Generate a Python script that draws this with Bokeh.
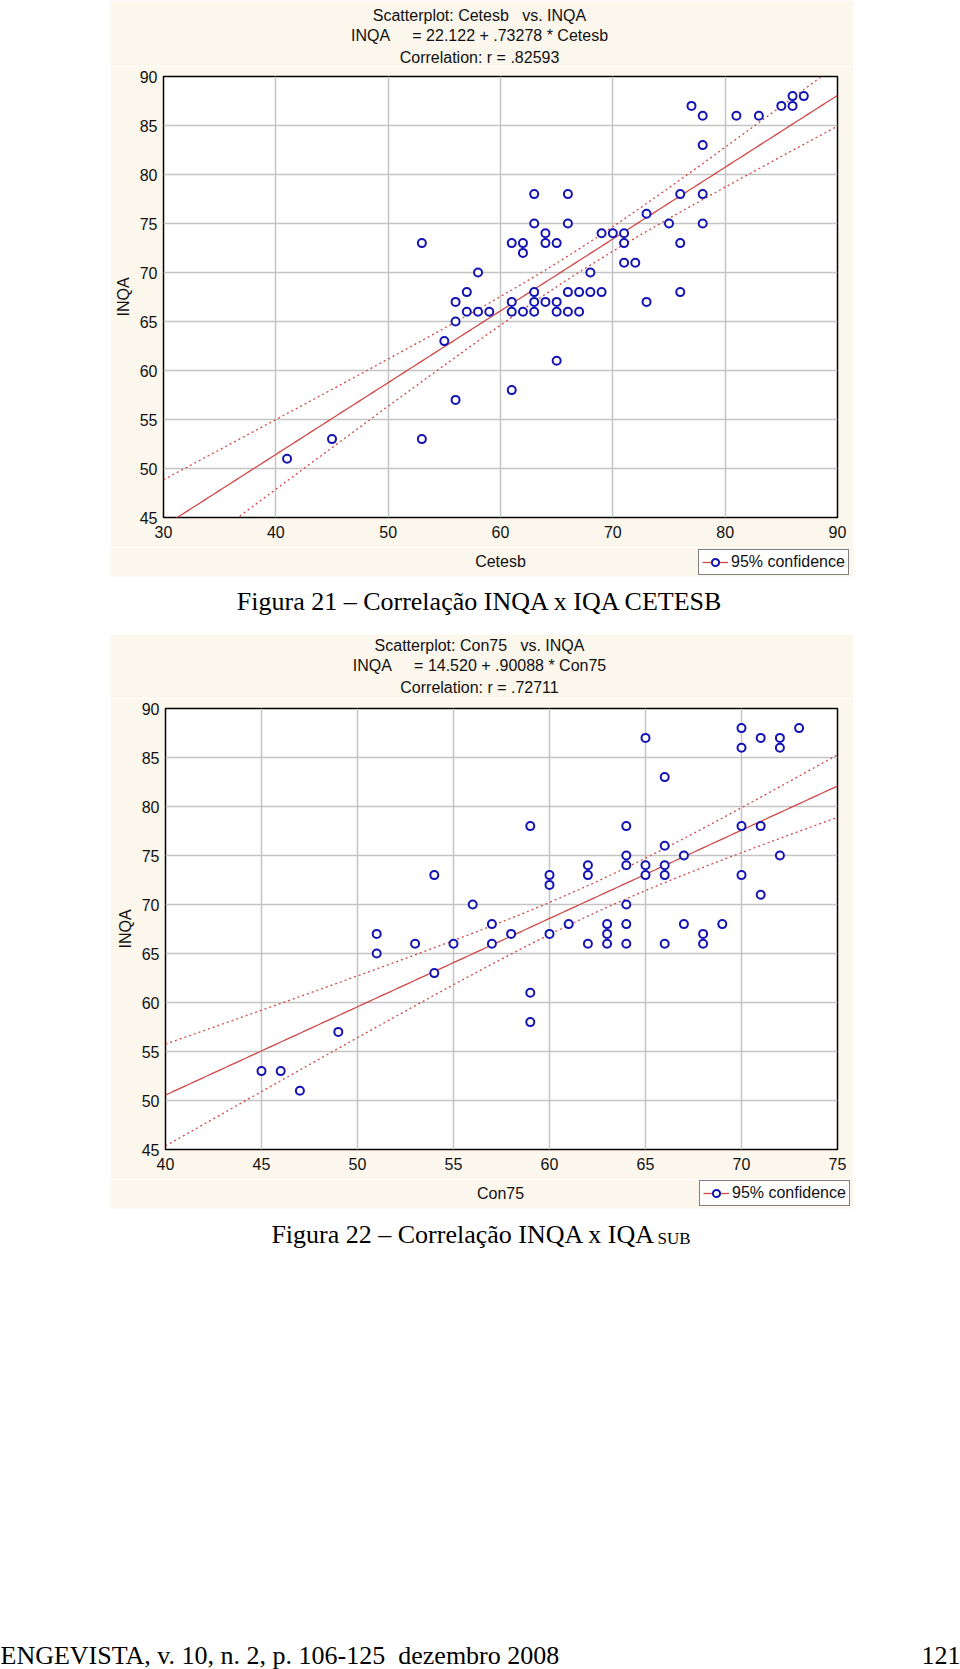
import numpy as np
from bokeh.plotting import figure
from bokeh.models import Range1d, Legend, LegendItem, FixedTicker, Spacer
from bokeh.layouts import column, row
from bokeh.core.properties import value
from bokeh.embed import file_html
from bokeh.resources import INLINE

# ---------------- data ----------------
cetesb = [41, 45, 53, 53, 55, 56, 56, 56, 57, 57, 58, 58, 59, 61, 61, 61, 61, 62, 62, 62,
          63, 63, 63, 63, 63, 64, 64, 64, 65, 65, 65, 65, 66, 66, 66, 66, 67, 67, 68, 68,
          69, 69, 70, 71, 71, 71, 72, 73, 73, 75, 76, 76, 76, 77, 78, 78, 78, 78, 81, 83,
          85, 86, 86, 87]
inqa_cetesb = [51, 53, 53, 73, 63, 57, 65, 67, 66, 68, 66, 70, 66, 58, 66, 67, 73, 66, 72, 73,
               66, 67, 68, 75, 78, 67, 73, 74, 61, 66, 67, 73, 66, 68, 75, 78, 66, 68, 68, 70,
               68, 74, 74, 71, 73, 74, 71, 67, 76, 75, 68, 73, 78, 87, 75, 78, 83, 86, 86, 86,
               87, 87, 88, 88]

con75 = [45, 46, 47, 49, 51, 51, 53, 54, 54, 55, 56, 57, 57, 58, 59, 59, 59, 60, 60, 60,
         61, 62, 62, 62, 63, 63, 63, 64, 64, 64, 64, 64, 64, 65, 65, 65, 66, 66, 66, 66,
         66, 67, 67, 68, 68, 69, 70, 70, 70, 70, 71, 71, 71, 72, 72, 72, 73]
inqa_con75 = [53, 53, 51, 57, 65, 67, 66, 63, 73, 66, 70, 66, 68, 67, 58, 61, 78, 67, 72, 73,
              68, 66, 73, 74, 66, 67, 68, 66, 68, 70, 74, 75, 78, 73, 74, 87, 66, 73, 74, 76,
              83, 68, 75, 66, 67, 68, 73, 78, 86, 88, 71, 78, 87, 75, 86, 87, 88]

# regression coefficients printed in the chart titles
fit1 = (22.122, 0.73278)
fit2 = (14.520, 0.90088)
r1 = ".82593"
r2 = ".72711"

x_ticks1 = [30, 40, 50, 60, 70, 80, 90]
x_ticks2 = [40, 45, 50, 55, 60, 65, 70, 75]
y_ticks = [45, 50, 55, 60, 65, 70, 75, 80, 85, 90]

T95 = 1.999  # Student t, 0.975 quantile, ~60 df

CREAM = "#FCF7EC"
BLUE = "#1414B4"
RED = "#D04848"
INK = "#111111"
SANS = "Liberation Sans"
SERIF = "Liberation Serif"
FS = "16px"
NB = "\u00a0"

# page geometry (px)
PW = 960
CX0, CX1 = 110, 853          # cream chart panels
PLOT_H = 481


def conf_band(xv, yv, a, b, grid):
    xv = np.asarray(xv, float)
    yv = np.asarray(yv, float)
    n = len(xv)
    s = np.sqrt(np.sum((yv - (a + b * xv)) ** 2) / (n - 2))
    xm = xv.mean()
    sxx = np.sum((xv - xm) ** 2)
    fitv = a + b * grid
    hw = T95 * s * np.sqrt(1.0 / n + (grid - xm) ** 2 / sxx)
    return fitv, fitv - hw, fitv + hw


def text_fig(h):
    p = figure(width=PW, height=h, x_range=Range1d(0, PW), y_range=Range1d(h, 0),
               x_axis_type=None, y_axis_type=None, toolbar_location=None, tools="",
               output_backend="svg", min_border=0)
    p.grid.visible = False
    p.outline_line_color = None
    p.background_fill_color = "white"
    p.border_fill_color = "white"
    return p


def cream(p, top, bottom):
    p.quad(left=[CX0], right=[CX1], top=[top], bottom=[bottom], fill_color=CREAM,
           line_color=None)


def sans(p, x, y, txt, align="center"):
    p.text(x=x, y=y, text=txt, text_font=value(SANS), text_font_size=FS,
           text_align=align, text_baseline="middle", text_color=INK)


def serif(p, x, y, txt, align, size="26px"):
    p.text(x=[x], y=[y], text=[txt], text_font=value(SERIF), text_font_size=size,
           text_align=align, text_baseline="alphabetic", text_color="black")


def titles(xname, fit, rtxt):
    return ["Scatterplot: %s%svs. INQA" % (xname, NB * 3),
            "INQA%s= %.3f + %s * %s" % (NB * 5, fit[0], ("%.5f" % fit[1])[1:], xname),
            "Correlation: r = %s" % rtxt]


def legend_in(p, x, y):
    lr = p.line([np.nan], [np.nan], line_color=RED, line_width=1.3)
    sr = p.scatter([np.nan], [np.nan], marker="circle", size=8, line_color=BLUE,
                   line_width=2, fill_color="white")
    leg = Legend(items=[LegendItem(label="95% confidence", renderers=[lr, sr])],
                 location=(x, y), border_line_color="black",
                 border_line_width=1, background_fill_color="white", background_fill_alpha=1,
                 label_text_font=SANS, label_text_font_size=FS, label_text_color=INK,
                 padding=3, margin=0, spacing=0, glyph_width=26, glyph_height=18,
                 label_standoff=3, label_height=18)
    p.add_layout(leg)


def plot(xs, ys, xticks, fit, L):
    x0, x1 = xticks[0], xticks[-1]
    p = figure(width=CX1 - CX0, height=PLOT_H, x_range=Range1d(x0, x1),
               y_range=Range1d(45, 90), output_backend="svg", toolbar_location=None,
               tools="", min_border_left=L, min_border_right=16, min_border_top=10,
               min_border_bottom=30, background_fill_color="white",
               border_fill_color=CREAM)
    p.outline_line_color = "black"
    p.outline_line_width = 1.5
    p.xaxis.ticker = FixedTicker(ticks=xticks)
    p.yaxis.ticker = FixedTicker(ticks=y_ticks)
    for ax in (p.xaxis[0], p.yaxis[0]):
        ax.axis_line_color = None
        ax.major_tick_line_color = None
        ax.minor_tick_line_color = None
        ax.major_tick_in = 0
        ax.major_tick_out = 0
        ax.major_label_text_font = SANS
        ax.major_label_text_font_size = FS
        ax.major_label_text_color = INK
    p.xaxis.major_label_standoff = 8
    p.yaxis.major_label_standoff = 6
    p.yaxis.axis_label = "INQA"
    p.yaxis.axis_label_text_font = SANS
    p.yaxis.axis_label_text_font_size = FS
    p.yaxis.axis_label_text_font_style = "normal"
    p.yaxis.axis_label_text_color = INK
    p.yaxis.axis_label_standoff = 5
    p.grid.grid_line_color = "#C4C4C4"
    p.grid.grid_line_width = 1.5

    grid = np.linspace(x0, x1, 241)
    fv, lo, hi = conf_band(xs, ys, fit[0], fit[1], grid)
    p.line(grid, fv, line_color=RED, line_width=1.3)
    p.line(grid, lo, line_color=RED, line_width=1.3, line_dash="2 3")
    p.line(grid, hi, line_color=RED, line_width=1.3, line_dash="2 3")
    p.scatter(xs, ys, marker="circle", size=8, line_color=BLUE, line_width=2,
              fill_color="white")
    return p


# --- top: header of chart 1 (page y 0-66)
top = text_fig(66)
cream(top, 0, 66)
sans(top, [479] * 3, [15, 35, 57], titles("Cetesb", fit1, r1))

p1 = plot(cetesb, inqa_cetesb, x_ticks1, fit1, 53)      # page y 66-547

# --- middle: strip of chart 1, caption 1, header of chart 2 (page y 547-698)
mid = text_fig(151)
cream(mid, 0, 29)
cream(mid, 87, 151)
sans(mid, [500], [14], ["Cetesb"])
legend_in(mid, 698, 123)
serif(mid, 480, 54, "Figura 21 \u2013 Correla\u00e7\u00e3o INQA x IQA CETESB", "center")
sans(mid, [479] * 3, [98, 118, 140], titles("Con75", fit2, r2))

p2 = plot(con75, inqa_con75, x_ticks2, fit2, 55)        # page y 698-1179

# --- bottom: strip of chart 2, caption 2, footer (page y 1179-1669)
bot = text_fig(490)
cream(bot, 0, 29)
sans(bot, [500], [14], ["Con75"])
legend_in(bot, 699, 463)
serif(bot, 655, 55, "Figura 22 \u2013 Correla\u00e7\u00e3o INQA x IQA", "right")
serif(bot, 657, 59, "SUB", "left", "17px")
serif(bot, 0, 476, "ENGEVISTA, v. 10, n. 2, p. 106-125" + NB * 2 + "dezembro 2008", "left")
serif(bot, 960, 476, "121", "right")

page = column(top,
              row(Spacer(width=CX0, height=PLOT_H), p1),
              mid,
              row(Spacer(width=CX0, height=PLOT_H), p2),
              bot)

open("out.html", "w").write(file_html(page, INLINE))
